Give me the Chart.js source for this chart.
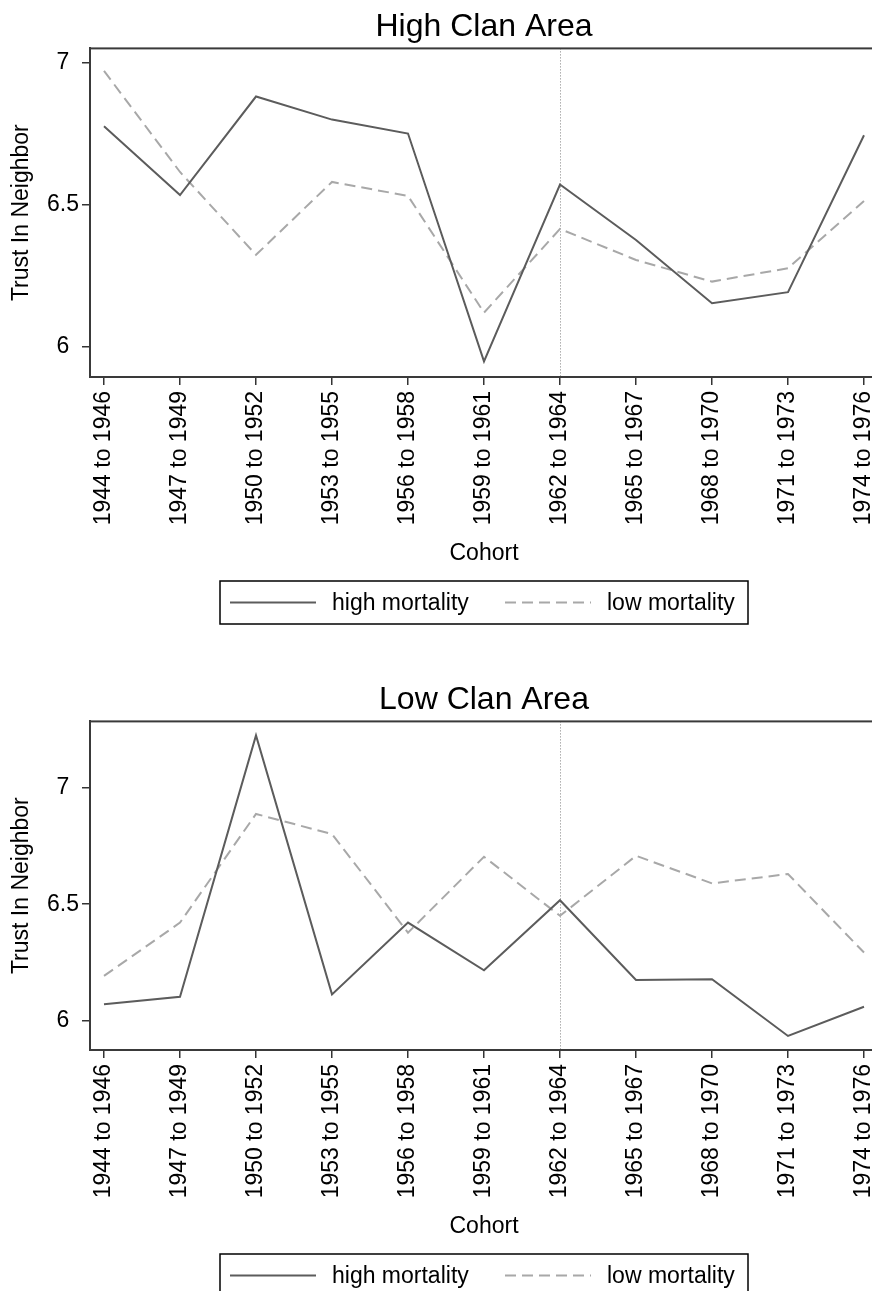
<!DOCTYPE html>
<html>
<head>
<meta charset="utf-8">
<script src="https://cdn.jsdelivr.net/npm/chart.js@4.4.1/dist/chart.umd.min.js"></script>
<style>
	html, body { margin: 0; padding: 0; background: #fff; }
	body { width: 872px; height: 1291px; overflow: hidden; position: relative; }
	.panel { position: absolute; left: 0; width: 872px; height: 640px; overflow: hidden; }
	#topPanel { top: 0; }
	#bottomPanel { top: 673px; }
</style>
</head>
<body>
<div class="panel" id="topPanel"><canvas id="highClanChart" width="968" height="640"></canvas></div>
<div class="panel" id="bottomPanel"><canvas id="lowClanChart" width="968" height="640"></canvas></div>

<script>
// cohorts on the x axis
const cohorts = ["1944 to 1946", "1947 to 1949", "1950 to 1952", "1953 to 1955",
	"1956 to 1958", "1959 to 1961", "1962 to 1964", "1965 to 1967",
	"1968 to 1970", "1971 to 1973", "1974 to 1976"];

// High Clan Area
const highClanHighMort = [6.776, 6.534, 6.880, 6.799, 6.750, 5.950, 6.571, 6.376, 6.154, 6.193, 6.744];
const highClanLowMort = [6.970, 6.615, 6.324, 6.580, 6.531, 6.121, 6.415, 6.306, 6.230, 6.277, 6.513];

// Low Clan Area
const lowClanHighMort = [6.072, 6.104, 7.222, 6.114, 6.421, 6.217, 6.517, 6.176, 6.179, 5.936, 6.061];
const lowClanLowMort = [6.193, 6.421, 6.886, 6.800, 6.378, 6.703, 6.450, 6.707, 6.589, 6.629, 6.293];

const yTicks = [6, 6.5, 7];
const highClanRange = [5.895, 7.049];
const lowClanRange = [5.876, 7.282];
const markerCohort = "1962 to 1964";
const seriesLabels = ["high mortality", "low mortality"];

const FONT = "'Liberation Sans', Arial, sans-serif";
const TXT = 23;

/* frame + dotted marker line */
const framePlugin = {
	id: "frame",
	beforeDatasetsDraw(chart) {
		const { ctx, chartArea, scales } = chart;
		const x = scales.x.getPixelForValue(cohorts.indexOf(markerCohort));
		ctx.save();
		ctx.strokeStyle = "#808080";
		ctx.lineWidth = 1;
		ctx.setLineDash([1, 2]);
		ctx.beginPath();
		ctx.moveTo(x + 0.5, chartArea.top);
		ctx.lineTo(x + 0.5, chartArea.bottom);
		ctx.stroke();
		ctx.restore();
	},
	afterDatasetsDraw(chart) {
		const { ctx, chartArea } = chart;
		ctx.save();
		ctx.strokeStyle = "#3a3a3a";
		ctx.lineWidth = 2;
		ctx.strokeRect(chartArea.left, chartArea.top,
			chartArea.right - chartArea.left, chartArea.bottom - chartArea.top);
		ctx.restore();
	}
};

/* legend with a box round it, below the axis title */
const boxLegendPlugin = {
	id: "boxLegend",
	afterDraw(chart) {
		const { ctx, chartArea } = chart;
		const cx = (chartArea.left + chartArea.right) / 2;
		const left = cx - 264;
		const top = chartArea.bottom + 204;
		const h = 43;
		const mid = top + h / 2;
		ctx.save();
		ctx.strokeStyle = "#000";
		ctx.lineWidth = 1.5;
		ctx.strokeRect(left, top, 528, h);
		const offsets = [10, 285];
		chart.data.datasets.forEach((ds, i) => {
			const x0 = left + offsets[i];
			ctx.strokeStyle = ds.borderColor;
			ctx.lineWidth = ds.borderWidth;
			ctx.setLineDash(ds.borderDash || []);
			ctx.beginPath();
			ctx.moveTo(x0, mid);
			ctx.lineTo(x0 + 86, mid);
			ctx.stroke();
			ctx.setLineDash([]);
			ctx.fillStyle = "#000";
			ctx.font = TXT + "px " + FONT;
			ctx.textBaseline = "middle";
			ctx.fillText(ds.label, x0 + 102, mid + 1);
		});
		ctx.restore();
	}
};

function makeChart(canvasId, titleText, highData, lowData, range) {
	const ctx = document.getElementById(canvasId);

	return new Chart(ctx, {

		type: "line",

		data: {
			datasets: [{
				label: seriesLabels[0],
				data: highData.map((v, i) => ({ x: i, y: v })),
				borderColor: "#5c5c5c",
				borderWidth: 2,
				pointRadius: 0,
				tension: 0,
				fill: false
			}, {
				label: seriesLabels[1],
				data: lowData.map((v, i) => ({ x: i, y: v })),
				borderColor: "#a8a8a8",
				borderWidth: 2,
				borderDash: [11, 6],
				pointRadius: 0,
				tension: 0,
				fill: false
			}]
		},

		options: {
			responsive: false,
			animation: false,
			events: [],
			layout: { padding: 0 },

			plugins: {
				legend: { display: false },
				tooltip: { enabled: false },
				title: {
					display: true,
					text: titleText,
					color: "#000",
					font: { family: FONT, size: 32, weight: "normal" },
					padding: { top: 8, bottom: 2 }
				}
			},

			scales: {

				x: {
					type: "linear",
					min: -14 / 76,
					max: cohorts.length - 1 + 14 / 76,
					afterBuildTicks: (s) => { s.ticks = cohorts.map((c, i) => ({ value: i })); },
					afterFit: (s) => { s.height = 263; },
					grid: {
						drawOnChartArea: false,
						drawTicks: true,
						tickLength: 8,
						tickColor: "#333",
						lineWidth: 1.5
					},
					border: { display: true, color: "#3a3a3a", width: 2 },
					ticks: {
						autoSkip: false,
						maxRotation: 90,
						minRotation: 90,
						padding: 6,
						color: "#000",
						font: { family: FONT, size: TXT },
						callback: (v) => cohorts[v]
					},
					title: {
						display: true,
						text: "Cohort",
						color: "#000",
						font: { family: FONT, size: TXT },
						padding: { top: 0, bottom: 73 }
					}
				},

				y: {
					position: "left",
					min: range[0],
					max: range[1],
					afterBuildTicks: (s) => { s.ticks = yTicks.map(v => ({ value: v })); },
					afterFit: (s) => { s.width = 90; },
					grid: {
						drawOnChartArea: false,
						drawTicks: true,
						tickLength: 8,
						tickColor: "#333",
						lineWidth: 1.5
					},
					border: { display: true, color: "#3a3a3a", width: 2 },
					ticks: {
						padding: 3,
						crossAlign: "center",
						color: "#000",
						font: { family: FONT, size: TXT },
						callback: (v) => String(v)
					},
					title: {
						display: true,
						text: "Trust In Neighbor",
						color: "#000",
						font: { family: FONT, size: TXT },
						padding: { top: 8, bottom: 0 }
					}
				},

				// empty right axis, keeps the title centred over the plot
				yRight: {
					position: "right",
					display: true,
					grid: { display: false },
					border: { display: false },
					ticks: { display: false },
					afterFit: (s) => { s.width = 90; }
				}
			}
		},

		plugins: [framePlugin, boxLegendPlugin]
	});
}

document.addEventListener("DOMContentLoaded", () => {
	window.highClanChart = makeChart("highClanChart", "High Clan Area",
		highClanHighMort, highClanLowMort, highClanRange);
	window.lowClanChart = makeChart("lowClanChart", "Low Clan Area",
		lowClanHighMort, lowClanLowMort, lowClanRange);
});
</script>
</body>
</html>
